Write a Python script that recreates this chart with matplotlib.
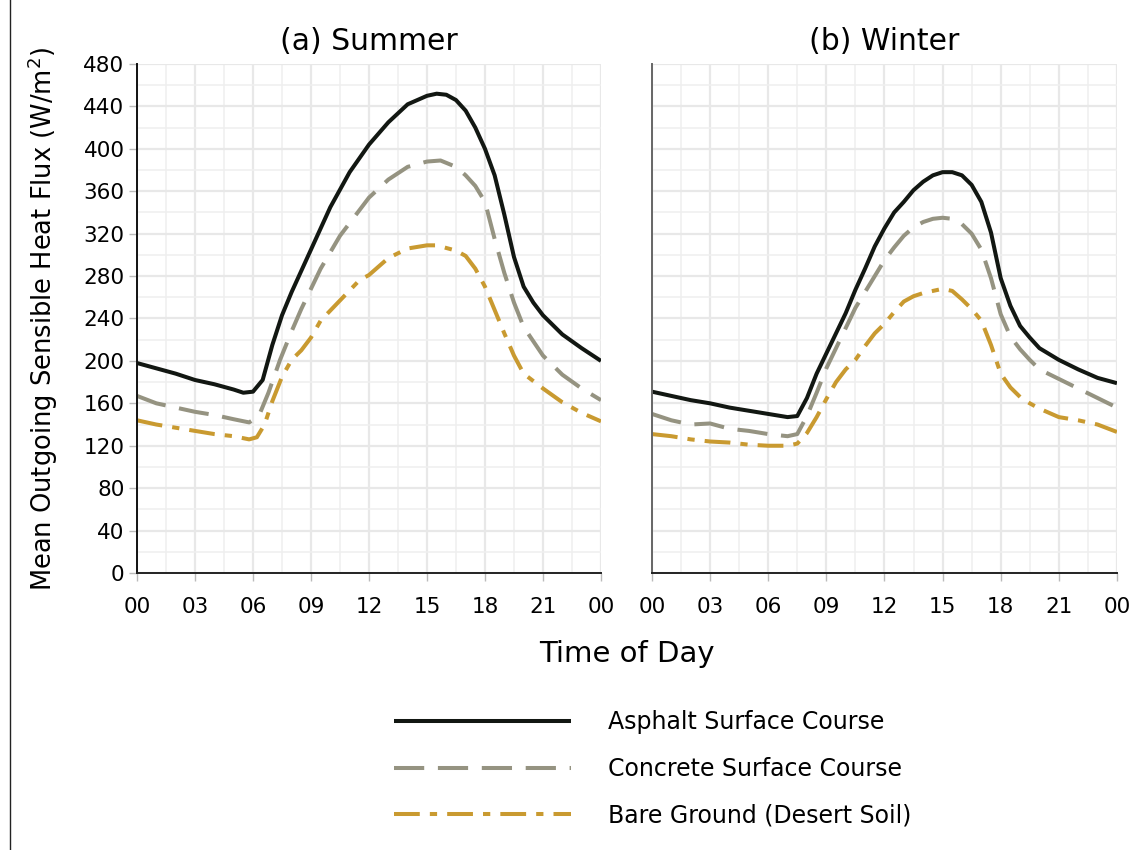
import numpy as np
import matplotlib
matplotlib.use("Agg")
import matplotlib.pyplot as plt
from matplotlib.lines import Line2D

plt.rcParams['font.family'] = ['DejaVu Sans']

# ---- data (hour of day, W/m2) ----
su_asp_t = [0, 1, 2, 3, 4, 5, 5.5, 6, 6.5, 7, 7.5, 8, 9, 10, 11, 12, 13, 14, 15, 15.5,
            16, 16.5, 17, 17.5, 18, 18.5, 19, 19.5, 20, 20.5, 21, 22, 23, 24]
su_asp_v = [198, 193, 188, 182, 178, 173, 170, 171, 182, 215, 243, 265, 305, 345, 378, 404,
            425, 442, 450, 452, 451, 446, 436, 420, 400, 375, 338, 298, 270, 255, 243, 225, 212, 200]

su_con_t = [0, 1, 2, 3, 4, 5, 5.8, 6.3, 6.8, 7.4, 8, 8.5, 9.5, 10.5, 11, 12, 13, 14, 15, 15.7,
            16.5, 17, 17.5, 18, 18.5, 19, 19.5, 20, 21, 22, 23, 24]
su_con_v = [167, 160, 156, 152, 149, 145, 142, 148, 170, 201, 228, 249, 287, 318, 330, 354,
            371, 383, 388, 389, 383, 375, 365, 350, 315, 283, 255, 232, 205, 187, 174, 163]

su_bare_t = [0, 1, 2, 3, 4, 5, 5.8, 6.2, 6.6, 7, 7.5, 8, 8.5, 9, 9.5, 10.5, 11.5, 12, 13, 14,
             15, 15.5, 16.5, 17, 17.5, 18, 18.5, 19, 19.5, 20, 21, 22, 23, 24]
su_bare_v = [144, 140, 137, 134, 131, 129, 126, 128, 140, 162, 185, 201, 210, 222, 238, 257,
             276, 281, 297, 306, 309, 309, 304, 299, 287, 270, 248, 226, 205, 188, 174, 161, 151, 143]

wi_t = [0, 1, 2, 3, 4, 5, 6, 7, 7.5, 8, 8.5, 9, 9.5, 10, 10.5, 11, 11.5, 12, 12.5, 13, 13.5,
        14, 14.5, 15, 15.5, 16, 16.5, 17, 17.5, 18, 18.5, 19, 19.5, 20, 21, 22, 23, 24]
wi_asp_v = [171, 167, 163, 160, 156, 153, 150, 147, 148, 165, 188, 207, 226, 245, 267, 287,
            308, 325, 340, 350, 361, 369, 375, 378, 378, 375, 366, 350, 321, 278, 252, 233,
            222, 212, 201, 192, 184, 179]
wi_con_v = [150, 144, 140, 141, 136, 134, 131, 129, 131, 148, 170, 193, 212, 231, 250, 265,
            280, 295, 307, 318, 326, 331, 334, 335, 334, 329, 320, 305, 278, 244, 223, 211,
            201, 192, 183, 174, 165, 156]
wi_bare_v = [131, 129, 126, 124, 123, 121, 120, 120, 122, 132, 147, 164, 180, 192, 201, 214,
             226, 235, 246, 256, 261, 264, 266, 268, 266, 258, 249, 238, 215, 188, 175, 166,
             160, 155, 147, 144, 140, 133]

labels = ["Asphalt Surface Course", "Concrete Surface Course", "Bare Ground (Desert Soil)"]
colors = ["#121712", "#959381", "#c99a30"]
dashes = [None, (7.5, 3.4), (6.4, 2.5, 1.8, 2.5)]

xticks = [0, 3, 6, 9, 12, 15, 18, 21, 24]
xticklabels = ["00", "03", "06", "09", "12", "15", "18", "21", "00"]

fig = plt.figure(figsize=(11.35, 8.5), dpi=100)
ax1 = fig.add_axes([0.1207, 0.3259, 0.4088, 0.5988])
ax2 = fig.add_axes([0.5744, 0.3259, 0.4097, 0.5988])

panels = [
    (ax1, "(a) Summer", [(su_asp_t, su_asp_v), (su_con_t, su_con_v), (su_bare_t, su_bare_v)]),
    (ax2, "(b) Winter", [(wi_t, wi_asp_v), (wi_t, wi_con_v), (wi_t, wi_bare_v)]),
]

for ax, title, series in panels:
    for (t, v), c, d, lab in zip(series, colors, dashes, labels):
        ln, = ax.plot(t, v, color=c, lw=2.9, label=lab, solid_capstyle='butt')
        if d is not None:
            ln.set_dashes(d)
    ax.set_xlim(0, 24)
    ax.set_ylim(0, 480)
    ax.set_xticks(xticks)
    ax.set_xticklabels(xticklabels)
    ax.set_xticks(np.arange(0, 24.1, 1.5), minor=True)
    ax.set_yticks(np.arange(0, 481, 40))
    ax.set_yticks(np.arange(0, 481, 20), minor=True)
    ax.grid(True, which='major', color='#e8e8e8', lw=1.6)
    ax.grid(True, which='minor', color='#efefef', lw=1.1)
    ax.set_axisbelow(True)
    ax.spines['top'].set_visible(False)
    ax.spines['right'].set_visible(False)
    ax.spines['bottom'].set_color('#222222')
    ax.spines['bottom'].set_linewidth(1.4)
    ax.tick_params(axis='both', which='major', labelsize=15.5, color='#bbbbbb',
                   length=6, width=1, pad=11)
    ax.tick_params(axis='both', which='minor', length=0)
    ax.set_title(title, fontsize=21.5, pad=10)

ax1.spines['left'].set_color('#111111')
ax1.spines['left'].set_linewidth(1.4)
ax1.tick_params(axis='y', pad=3)
ax1.set_ylabel("Mean Outgoing Sensible Heat Flux (W/m$^2$)", fontsize=18.5, labelpad=17)

ax2.spines['left'].set_color('#666666')
ax2.spines['left'].set_linewidth(1.4)
ax2.tick_params(axis='y', left=False, labelleft=False)

fig.text(0.5524, 0.230, "Time of Day", ha='center', va='center', fontsize=21)

# thin frame line at the left edge
fig.add_artist(Line2D([0.009, 0.009], [0.0, 1.0], transform=fig.transFigure,
                      color='#222222', lw=1.0))

handles, labs = ax1.get_legend_handles_labels()
leg = fig.legend(handles, labs, loc='center', bbox_to_anchor=(0.575, 0.0955),
                 frameon=False, fontsize=17, handlelength=7.5, handletextpad=1.6,
                 labelspacing=0.95)

fig.savefig("out.png", dpi=100)
